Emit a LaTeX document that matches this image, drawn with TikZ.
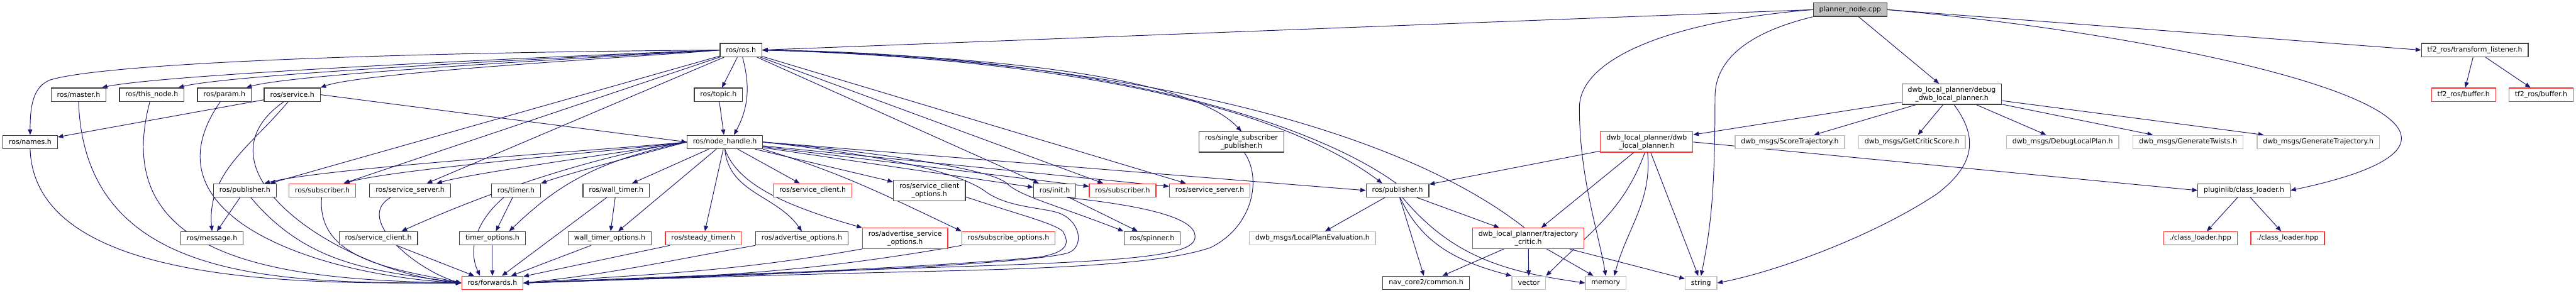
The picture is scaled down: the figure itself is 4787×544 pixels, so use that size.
\documentclass[tikz,border=0pt]{standalone}
\usepackage{fontspec}
\setmainfont{DejaVu Sans}
\usepackage{tikz}
\usetikzlibrary{arrows.meta}
\definecolor{edgeblue}{RGB}{25,25,112}
\definecolor{boxdark}{RGB}{64,64,64}
\definecolor{boxred}{RGB}{255,48,48}
\definecolor{boxgrey}{RGB}{191,191,191}
\pgfdeclarelayer{background}
\pgfsetlayers{background,main}

\begin{document}
\begin{tikzpicture}[
    x=0.25pt, y=-0.25pt,
    >={Triangle[length=2.5pt,width=2pt]},
    hdr/.style={
        draw=boxdark,
        line width=0.375pt,
        fill=white,
        align=center,
        inner xsep=2.75pt,
        inner ysep=1.25pt,
        minimum height=6.25pt,
        font=\fontsize{3.21}{3.8}\selectfont
    },
    trunc/.style={hdr, draw=boxred},
    ext/.style={hdr, draw=boxgrey},
    root/.style={hdr, fill=boxgrey},
    dep/.style={->, draw=edgeblue, line width=0.28pt}
]
\useasboundingbox (0,0) rectangle (4787,544);

\node[root]  (main)         at (3438,18)  {planner\_node.cpp};

\node[hdr]   (ros)          at (1377,93)  {ros/ros.h};
\node[hdr]   (tflist)       at (4599,93)  {tf2\_ros/transform\_listener.h};

\node[hdr]   (master)       at (146,176)  {ros/master.h};
\node[hdr]   (thisnode)     at (282,176)  {ros/this\_node.h};
\node[hdr]   (param)        at (417,176)  {ros/param.h};
\node[hdr]   (service)      at (543,176)  {ros/service.h};
\node[hdr]   (topic)        at (1335,176) {ros/topic.h};
\node[hdr]   (debugdwb)     at (3627,175) {dwb\_local\_planner/debug\\\_dwb\_local\_planner.h};
\node[trunc] (buf1)         at (4578,176) {tf2\_ros/buffer.h};
\node[trunc] (buf2)         at (4722,176) {tf2\_ros/buffer.h};

\node[hdr]   (names)        at (56,264)   {ros/names.h};
\node[hdr]   (nodehandle)   at (1347,264) {ros/node\_handle.h};
\node[hdr]   (singlesub)    at (2307,264) {ros/single\_subscriber\\\_publisher.h};
\node[trunc] (dwblp)        at (3060,264) {dwb\_local\_planner/dwb\\\_local\_planner.h};
\node[ext]   (score)        at (3326,264) {dwb\_msgs/ScoreTrajectory.h};
\node[ext]   (critscore)    at (3553,264) {dwb\_msgs/GetCriticScore.h};
\node[ext]   (debugplan)    at (3833,264) {dwb\_msgs/DebugLocalPlan.h};
\node[ext]   (twists)       at (4066,264) {dwb\_msgs/GenerateTwists.h};
\node[ext]   (gentraj)      at (4308,264) {dwb\_msgs/GenerateTrajectory.h};

\node[hdr]   (pubL)         at (455,354)  {ros/publisher.h};
\node[trunc] (subL)         at (599,354)  {ros/subscriber.h};
\node[hdr]   (srvL)         at (762,354)  {ros/service\_server.h};
\node[hdr]   (timer)        at (959,354)  {ros/timer.h};
\node[hdr]   (walltimer)    at (1145,354) {ros/wall\_timer.h};
\node[trunc] (srvcliR)      at (1510,354) {ros/service\_client.h};
\node[hdr]   (srvcliopt)    at (1727,354) {ros/service\_client\\\_options.h};
\node[hdr]   (init)         at (1960,354) {ros/init.h};
\node[trunc] (subR)         at (2086,354) {ros/subscriber.h};
\node[trunc] (srvR)         at (2248,354) {ros/service\_server.h};
\node[hdr]   (pubR)         at (2597,354) {ros/publisher.h};
\node[hdr]   (loader)       at (4170,354) {pluginlib/class\_loader.h};

\node[hdr]   (message)      at (394,443)  {ros/message.h};
\node[hdr]   (srvcli)       at (703,443)  {ros/service\_client.h};
\node[hdr]   (timeropt)     at (915,443)  {timer\_options.h};
\node[hdr]   (walltimeropt) at (1133,443) {wall\_timer\_options.h};
\node[trunc] (steady)       at (1307,443) {ros/steady\_timer.h};
\node[hdr]   (advopt)       at (1490,443) {ros/advertise\_options.h};
\node[trunc] (advsrvopt)    at (1682,443) {ros/advertise\_service\\\_options.h};
\node[trunc] (subopt)       at (1874,443) {ros/subscribe\_options.h};
\node[hdr]   (spinner)      at (2141,443) {ros/spinner.h};
\node[ext]   (localplan)    at (2439,443) {dwb\_msgs/LocalPlanEvaluation.h};
\node[trunc] (critic)       at (2840,443) {dwb\_local\_planner/trajectory\\\_critic.h};
\node[trunc] (hpp1)         at (4089,443) {./class\_loader.hpp};
\node[trunc] (hpp2)         at (4251,443) {./class\_loader.hpp};

\node[trunc] (forwards)     at (915,526)  {ros/forwards.h};
\node[hdr]   (navcore)      at (2650,526) {nav\_core2/common.h};
\node[ext]   (vector)       at (2841,526) {vector};
\node[ext]   (memory)       at (2984,526) {memory};
\node[ext]   (string)       at (3161,526) {string};

\begin{pgfonlayer}{background}
\draw[dep] (main.west) -- (ros.east);
\draw[dep] (main.west) .. controls (3100,40) and (2935,110) .. (2935,200) .. controls (2935,330) and (2970,430) .. (memory.north);
\draw[dep] (main.south west) .. controls (3250,60) and (3187,110) .. (3187,180) .. controls (3187,350) and (3180,420) .. (string.north);
\draw[dep] (main) -- (debugdwb);
\draw[dep] (main.east) -- (tflist.west);
\draw[dep] (main.east) to[out=-5,in=12,looseness=1.8] (loader.east);

\draw[dep] (ros.west) .. controls (700,98) and (200,118) .. (95,148) .. controls (60,160) and (56,200) .. (names.north);
\draw[dep] (ros.west) to[out=182,in=12,looseness=0.3] (master.17);
\draw[dep] (ros.west) to[out=183,in=14,looseness=0.3] (thisnode.15);
\draw[dep] (ros.west) to[out=184,in=16,looseness=0.3] (param.18);
\draw[dep] (ros.west) to[out=186,in=20,looseness=0.3] (service.north east);
\draw[dep] (ros) -- (pubL);
\draw[dep] (ros) -- (subL);
\draw[dep] (ros) -- (srvL);
\draw[dep] (ros) -- (topic);
\draw[dep] (ros.-78) to[out=-75,in=62] (nodehandle.38);
\draw[dep] (ros) -- (init);
\draw[dep] (ros) -- (subR);
\draw[dep] (ros) -- (srvR);
\draw[dep] (ros.east) .. controls (1900,105) and (2220,150) .. (singlesub.north);
\draw[dep] (ros.east) .. controls (2000,110) and (2380,200) .. (pubR.155);
\draw[dep] (pubR.100) .. controls (2420,215) and (2000,100) .. (ros.east);
\draw[dep] (critic.110) .. controls (2600,240) and (2100,110) .. (ros.east);

\draw[dep] (service.east) -- (nodehandle.west);
\draw[dep] (topic) -- (nodehandle);
\draw[dep] (nodehandle.west) to[out=186,in=14,looseness=0.4] (pubL.20);
\draw[dep] (nodehandle.west) to[out=188,in=16,looseness=0.4] (subL.18);
\draw[dep] (nodehandle.west) to[out=190,in=16,looseness=0.4] (srvL.15);
\draw[dep] (nodehandle.west) .. controls (1100,290) and (900,360) .. (srvcli.17);
\draw[dep] (nodehandle.west) to[out=195,in=20,looseness=0.5] (timer.north east);
\draw[dep] (nodehandle.west) .. controls (1100,300) and (1030,350) .. (timeropt.23);
\draw[dep] (nodehandle) -- (walltimer);
\draw[dep] (nodehandle) -- (walltimeropt);
\draw[dep] (nodehandle) -- (steady);
\draw[dep] (nodehandle.south) to[out=-85,in=125] (advopt.north);
\draw[dep] (nodehandle.south) .. controls (1370,340) and (1450,380) .. (advsrvopt.north west);
\draw[dep] (nodehandle) -- (srvcliR);
\draw[dep] (nodehandle) -- (srvcliopt);
\draw[dep] (nodehandle.south east) .. controls (1560,320) and (1640,360) .. (subopt.north west);
\draw[dep] (nodehandle) -- (init);
\draw[dep] (nodehandle) -- (subR);
\draw[dep] (nodehandle) -- (srvR);
\draw[dep] (nodehandle.east) .. controls (1650,285) and (1840,315) .. (1870,340) .. controls (1895,365) and (1960,380) .. (spinner.north west);
\draw[dep] (nodehandle.east) -- (pubR.west);
\draw[dep] (nodehandle.east) .. controls (1650,290) and (1780,320) .. (1830,355) .. controls (1870,385) and (1930,385) .. (1965,395) .. controls (2010,410) and (2015,460) .. (1985,470) .. controls (1900,495) and (1300,515) .. (forwards.east);

\draw[dep] (names.south) to[out=-88,in=180,looseness=0.8] (forwards.west);
\draw[dep] (master.south) to[out=-88,in=180,looseness=1.1] (forwards.west);
\draw[dep] (thisnode.-105) to[out=-105,in=179,looseness=1.2] (forwards.west);
\draw[dep] (param.-120) to[out=-125,in=177,looseness=1.2] (forwards.west);
\draw[dep] (service.-140) to[out=-145,in=175,looseness=1.2] (forwards.west);
\draw[dep] (service) -- (names);
\draw[dep] (service.-120) to[out=-130,in=95] (message.north);
\draw[dep] (pubL) -- (message);
\draw[dep] (pubL.-50) to[out=-50,in=172] (forwards.west);
\draw[dep] (subL.-95) to[out=-95,in=168] (forwards.west);
\draw[dep] (srvL.-160) to[out=-150,in=165] (forwards.west);
\draw[dep] (srvcli) -- (forwards);
\draw[dep] (timer.-150) to[out=-140,in=115] (forwards.150);
\draw[dep] (timer) -- (timeropt);
\draw[dep] (timeropt) -- (forwards);
\draw[dep] (walltimer) -- (walltimeropt);
\draw[dep] (walltimer) -- (forwards);
\draw[dep] (walltimeropt) -- (forwards);
\draw[dep] (steady) -- (forwards);
\draw[dep] (advopt.south west) to[out=190,in=6] (forwards.east);
\draw[dep] (advsrvopt.south west) to[out=190,in=4] (forwards.east);
\draw[dep] (subopt.south west) to[out=190,in=2] (forwards.east);
\draw[dep] (srvcliopt.-10) .. controls (1880,395) and (1960,415) .. (1975,430) .. controls (1990,455) and (1980,470) .. (1930,478) .. controls (1700,500) and (1200,518) .. (forwards.east);
\draw[dep] (init) -- (spinner);
\draw[dep] (init.-30) .. controls (2150,385) and (2230,410) .. (2220,445) .. controls (2210,475) and (2100,485) .. (1800,495) .. controls (1400,508) and (1100,520) .. (forwards.east);
\draw[dep] (singlesub.-75) .. controls (2345,330) and (2330,420) .. (2250,460) .. controls (2150,495) and (1900,500) .. (1700,505) .. controls (1400,512) and (1100,522) .. (forwards.east);

\draw[dep] (debugdwb) -- (dwblp);
\draw[dep] (debugdwb) -- (score);
\draw[dep] (debugdwb) -- (critscore);
\draw[dep] (debugdwb) -- (debugplan);
\draw[dep] (debugdwb) -- (twists);
\draw[dep] (debugdwb) -- (gentraj);
\draw[dep] (debugdwb.-78) .. controls (3680,260) and (3665,310) .. (3600,360) .. controls (3480,440) and (3300,505) .. (string.east);

\draw[dep] (dwblp) -- (pubR);
\draw[dep] (dwblp) -- (critic);
\draw[dep] (dwblp.-100) to[out=-110,in=45] (vector.north east);
\draw[dep] (dwblp.-85) to[out=-85,in=75] (memory.40);
\draw[dep] (dwblp) -- (string);
\draw[dep] (dwblp.east) -- (loader.west);

\draw[dep] (pubR) -- (localplan);
\draw[dep] (pubR) -- (navcore);
\draw[dep] (pubR.-70) to[out=-65,in=165] (vector.north west);
\draw[dep] (pubR.-55) to[out=-50,in=172] (memory.west);
\draw[dep] (pubR) -- (critic);

\draw[dep] (critic) -- (navcore);
\draw[dep] (critic) -- (vector);
\draw[dep] (critic) -- (memory);
\draw[dep] (critic) -- (string);

\draw[dep] (loader) -- (hpp1);
\draw[dep] (loader) -- (hpp2);
\draw[dep] (tflist) -- (buf1);
\draw[dep] (tflist) -- (buf2);
\end{pgfonlayer}
\end{tikzpicture}
\end{document}
